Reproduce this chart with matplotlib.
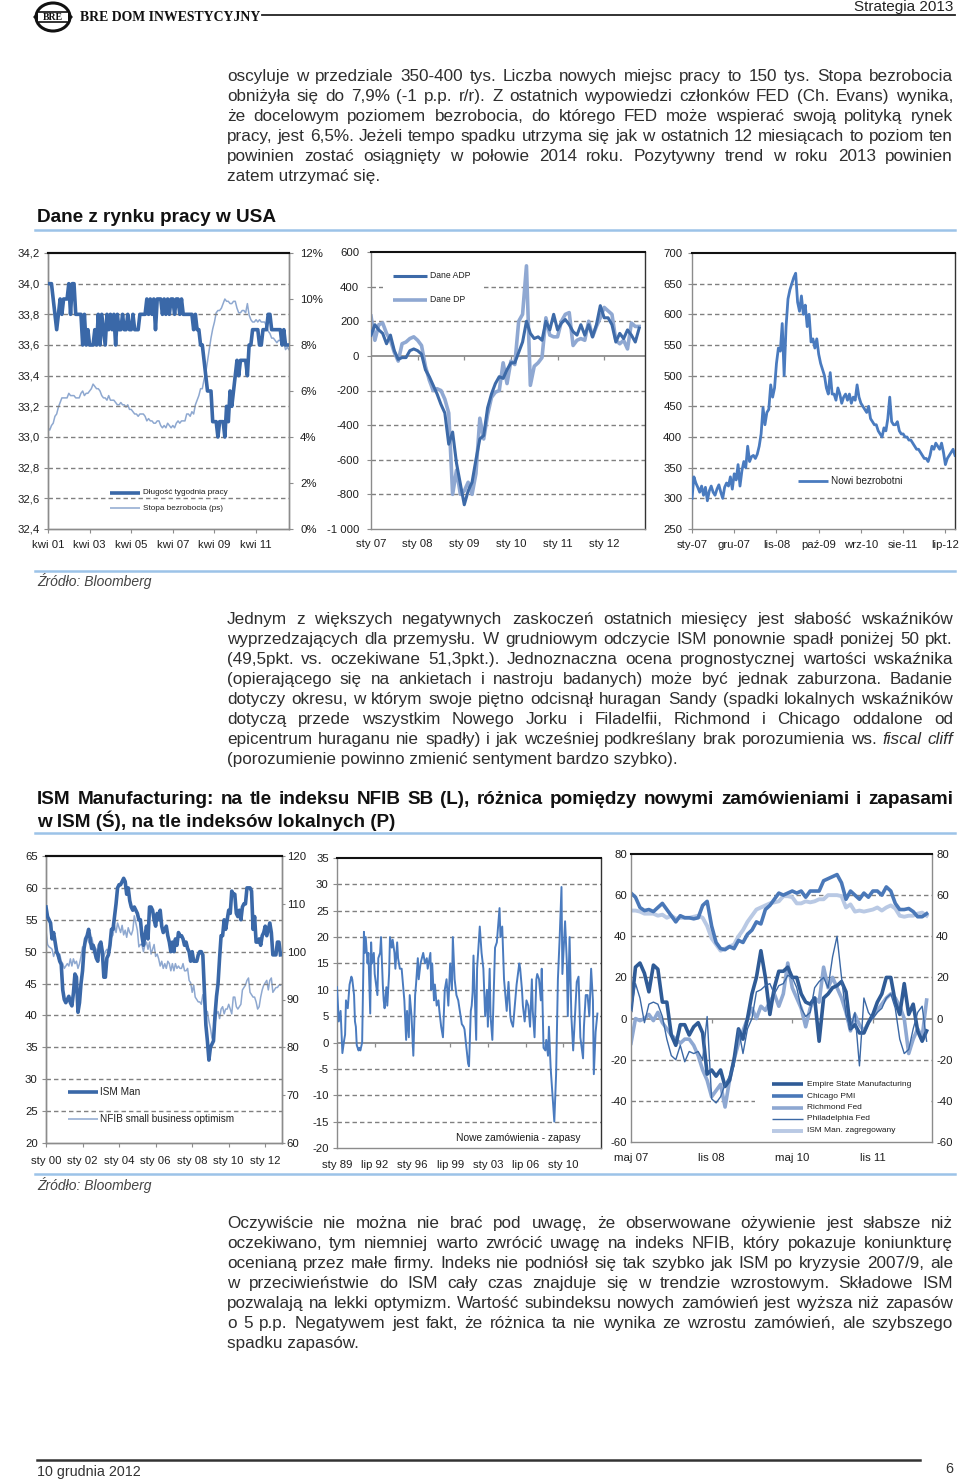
import matplotlib
matplotlib.use('Agg')
import matplotlib.pyplot as plt
from matplotlib import font_manager
from matplotlib.lines import Line2D
from matplotlib.patches import Rectangle, Ellipse, Polygon
import numpy as np

# ---------------------------------------------------------------- data
# Chart 1: weekly hours (L) and unemployment rate (R), monthly Apr 2001 - Nov 2012
hours = [34.0, 34.0, 34.0, 33.9, 33.8, 33.7, 33.8, 33.9, 33.8,
         33.9, 33.9, 33.9, 34.0, 33.8, 34.0, 34.0, 33.8, 33.8, 33.8, 33.8, 33.6,
         33.8, 33.6, 33.7, 33.6, 33.6, 33.6, 33.7, 33.6, 33.8, 33.6, 33.8, 33.7,
         33.6, 33.8, 33.7, 33.8, 33.7, 33.8, 33.6, 33.8, 33.7, 33.7, 33.8, 33.7,
         33.7, 33.8, 33.7, 33.7, 33.8, 33.7, 33.7, 33.7, 33.8, 33.8, 33.8, 33.8,
         33.9, 33.8, 33.9, 33.8, 33.9, 33.7, 33.9, 33.9, 33.9, 33.8, 33.9, 33.8,
         33.9, 33.8, 33.9, 33.9, 33.8, 33.9, 33.9, 33.8, 33.9, 33.8, 33.8, 33.8,
         33.8, 33.8, 33.8, 33.7, 33.8, 33.7, 33.7, 33.6, 33.6, 33.5, 33.4, 33.3,
         33.3, 33.3, 33.1, 33.1, 33.1, 33.0, 33.1, 33.1, 33.1, 33.0, 33.2, 33.1,
         33.3, 33.2, 33.3, 33.4, 33.5, 33.4, 33.5, 33.5, 33.5, 33.5, 33.4, 33.6,
         33.6, 33.7, 33.7, 33.7, 33.7, 33.6, 33.6, 33.7, 33.7, 33.7, 33.8, 33.8,
         33.7, 33.7, 33.7, 33.7, 33.7, 33.7, 33.6, 33.7, 33.6, 33.6, 33.6]
unemp = [4.4, 4.3, 4.5, 4.6, 4.9, 5.0, 5.3, 5.5, 5.7,
         5.7, 5.7, 5.7, 5.9, 5.8, 5.8, 5.8, 5.7, 5.7, 5.7, 5.9, 6.0,
         5.8, 5.9, 5.9, 6.0, 6.1, 6.3, 6.2, 6.1, 6.1, 6.0, 5.8, 5.7,
         5.7, 5.6, 5.8, 5.6, 5.6, 5.6, 5.5, 5.4, 5.4, 5.5, 5.4, 5.4,
         5.3, 5.4, 5.2, 5.2, 5.1, 5.0, 5.0, 4.9, 5.0, 5.0, 5.0, 4.9,
         4.7, 4.8, 4.7, 4.7, 4.6, 4.6, 4.7, 4.7, 4.5, 4.4, 4.5, 4.4,
         4.6, 4.5, 4.4, 4.5, 4.4, 4.6, 4.7, 4.6, 4.7, 4.7, 4.7, 5.0,
         5.0, 4.9, 5.1, 5.0, 5.4, 5.6, 5.8, 6.1, 6.1, 6.5, 6.8, 7.3,
         7.8, 8.3, 8.7, 9.0, 9.4, 9.5, 9.5, 9.6, 9.8, 10.0, 9.9, 9.9,
         9.8, 9.8, 9.9, 9.9, 9.6, 9.4, 9.4, 9.5, 9.5, 9.4, 9.8, 9.3,
         9.1, 9.0, 9.0, 9.1, 9.0, 9.1, 9.0, 9.0, 9.0, 8.8, 8.6, 8.5,
         8.3, 8.3, 8.2, 8.1, 8.2, 8.2, 8.2, 8.1, 7.8, 7.9, 7.8]
c1_xticks = [0, 24, 48, 72, 96, 120]
c1_xlabels = ['kwi 01', 'kwi 03', 'kwi 05', 'kwi 07', 'kwi 09', 'kwi 11']
c1_yticks = [32.4, 32.6, 32.8, 33.0, 33.2, 33.4, 33.6, 33.8, 34.0, 34.2]
c1_rticks = [0, 2, 4, 6, 8, 10, 12]

# Chart 2: ADP vs nonfarm payrolls (thous.), monthly Jan 2007 - Oct 2012
adp = [120, 180, 150, 130, 70, 120, 30, -20, -10, -10, 30, 40,
       30, 10, -80, -120, -170, -220, -280, -330, -510, -440, -620, -740,
       -860, -780, -730, -600, -480, -460, -300, -220, -160, -120, -130, -80,
       -40, -40, 20, 80, 200, 130, 100, 110, 90, 200, 150, 240,
       150, 190, 210, 180, 140, 120, 180, 120, 180, 110, 180, 290,
       220, 220, 180, 80, 130, 100, 150, 120, 80, 160]
dp = [230, 90, 180, 190, 130, 90, 20, -30, 70, 80, 100, 110,
      90, 60, -60, -140, -200, -190, -200, -250, -330, -800, -660, -800,
      -780, -730, -800, -680, -360, -480, -340, -240, -210, -200, -40, -160,
      -30, -50, 200, 240, 520, -170, -60, -40, -10, 220, 120, 110,
      110, 200, 240, 250, 60, 90, 100, 90, 200, 110, 170, 220,
      280, 260, 240, 90, 70, 90, 40, 190, 170, 170]
c2_xticks = [0, 12, 24, 36, 48, 60]
c2_xlabels = ['sty 07', 'sty 08', 'sty 09', 'sty 10', 'sty 11', 'sty 12']
c2_yticks = [-1000, -800, -600, -400, -200, 0, 200, 400, 600]
c2_ylabels = ['-1 000', '-800', '-600', '-400', '-200', '0', '200', '400', '600']

# Chart 3: initial jobless claims (thous.), two readings per month from Jan 2007
claims = [300, 335, 325, 318, 310, 320, 305, 318, 296, 312, 320, 310,
          305, 315, 322, 310, 300, 318, 325, 320, 335, 315, 340, 330,
          355, 320, 345, 360, 350, 385, 360, 368, 370, 365, 372, 385,
          405, 448, 420, 440, 445, 485, 465, 480, 520, 545, 540, 585,
          500, 580, 625, 640, 650, 660, 667, 620, 605, 630, 600, 615,
          580, 600, 555, 560, 545, 560, 535, 520, 510, 500, 480, 470,
          505, 470, 470, 460, 480, 470, 455, 465, 470, 460, 470, 455,
          465, 460, 485, 465, 455, 450, 445, 440, 450, 430, 425, 420,
          420, 410, 405, 400, 415, 410, 430, 465, 425, 420, 420, 425,
          410, 405, 405, 400, 400, 395, 395, 390, 385, 380, 380, 375,
          370, 365, 365, 360, 370, 385, 380, 390, 385, 380, 390, 375,
          355, 365, 370, 375, 380, 370]
c3_xticks = [0, 11, 22, 33, 44, 55, 66]
c3_xlabels = ['sty-07', 'gru-07', 'lis-08', 'paź-09', 'wrz-10', 'sie-11', 'lip-12']
c3_yticks = [250, 300, 350, 400, 450, 500, 550, 600, 650, 700]

# Chart 4: ISM Manufacturing (L) and NFIB small business optimism (R), monthly Jan 2000 - Nov 2012
ism = [57, 55.5, 55, 54.5, 52, 53, 51.5, 50, 49.5, 48.5, 48, 44,
       42.5, 42, 42.5, 43, 42, 41.5, 43.5, 46.5, 46, 40.5, 42, 45,
       47, 50.5, 52, 52.5, 53.5, 52, 50.5, 51, 50, 49, 48.5, 51,
       51.5, 50, 46, 46, 49, 49.5, 51, 53.5, 53.5, 55.5, 57.5, 60,
       60.5, 60.5, 61, 61.5, 61, 59, 60, 58, 57, 56.5, 57, 56.5,
       56, 55, 55, 52.5, 51, 52.5, 54, 52, 57, 57, 56.5, 55,
       54, 56, 55, 56.5, 54, 53, 53.5, 54, 52.5, 51.5, 50, 51.5,
       50, 52, 51, 53, 52.5, 52.5, 52, 51, 51.5, 50.5, 50, 48.5,
       50, 48.5, 48.5, 48.5, 49.5, 50, 50, 49.5, 44, 38.5, 36, 33,
       35, 35.5, 36, 40, 43, 45, 49, 52.5, 52.5, 55, 53.5, 55,
       56.5, 56, 59.5, 59, 59, 56, 55.5, 56.5, 55, 57, 57.5, 57.5,
       60, 60, 60, 59.5, 53.5, 55.5, 51.5, 51.5, 52, 51, 52.5, 53,
       54, 52.5, 53.5, 54.5, 53, 49.5, 49.5, 49.5, 51.5, 51.5, 49.5]
nfib = [104.5, 101.5, 101, 100.8, 100.5, 99, 100, 99.5, 98.5, 99.5, 98, 97.5,
        96.5, 97, 97.5, 97, 98.5, 97, 98.5, 97.5, 98, 96.5, 97.5, 99,
        101, 100.5, 102.5, 103, 102, 101.5, 103, 101.5, 101, 100.5, 99.5, 101,
        100, 99.5, 99, 100, 100.5, 100, 101.5, 103, 103.5, 105.5, 104, 106,
        105, 104, 105.5, 103.5, 104.5, 103, 105, 104, 103.5, 104.5, 107.5, 106,
        104.5, 101, 101.5, 101.5, 100, 101.5, 102, 100.5, 102, 99.5, 100.5, 101.5,
        99, 99.5, 98.5, 97, 98, 96.5, 97.5, 96.5, 98, 97.5, 96, 97.5,
        96, 97.5, 96.5, 97, 96.5, 96.5, 97.5, 96, 96, 96.5, 94, 93.5,
        91.5, 93, 90.5, 90, 89.5, 89.5, 89, 91, 89.5, 87, 87.5, 85.5,
        84, 82, 81.5, 85, 87, 87.5, 86, 88, 88.5, 87, 88, 88,
        89, 88, 87, 90.5, 90.5, 88.5, 88, 88.5, 89, 92, 92.5, 93,
        94, 94.5, 91.5, 91, 90.5, 90.5, 89.5, 88, 88.5, 90.5, 92, 93,
        93.5, 94, 92, 94, 94.5, 91.5, 92, 92.5, 92.5, 93, 93]
c4_xticks = [0, 24, 48, 72, 96, 120, 144]
c4_xlabels = ['sty 00', 'sty 02', 'sty 04', 'sty 06', 'sty 08', 'sty 10', 'sty 12']
c4_yticks = [20, 25, 30, 35, 40, 45, 50, 55, 60, 65]
c4_rticks = [60, 70, 80, 90, 100, 110, 120]

# Chart 5: ISM new orders minus inventories, readings (month offset from Jan 1989, value)
no_month = [0, 2, 4, 6, 8, 9, 10, 12, 14, 16, 17, 19, 20, 21, 22, 24, 25, 26, 28, 29,
            30, 31, 32, 34, 35, 36, 37, 38, 39, 41, 42, 45, 46, 48, 49, 51, 52, 53, 55, 56,
            58, 59, 61, 62, 64, 65, 67, 68, 70, 72, 75, 77, 78, 80, 81, 83, 85, 87, 88, 90,
            91, 93, 96, 98, 100, 101, 104, 105, 106, 108, 109, 111, 113, 114, 116, 118, 120, 122, 124, 126,
            128, 129, 131, 133, 135, 139, 141, 142, 146, 147, 149, 150, 151, 152, 155, 156, 159, 161, 163, 165,
            167, 168, 170, 171, 173, 176, 178, 181, 182, 184, 186, 189, 191, 193, 194, 196, 197, 200, 203, 204,
            206, 207, 209, 211, 213, 215, 217, 218, 220, 222, 223, 225, 227, 228, 230, 232, 233, 235, 236, 238,
            240, 242, 244, 246, 248, 250, 251, 254, 256, 257, 259, 261, 263, 265, 267, 269, 271, 274, 275, 277,
            279, 281, 283, 285, 286, 288, 290]
no_value = [10.5, 4, 6, -2, 0.5, 1.5, 8, 6.5, 11, 12.5, 12, 9, 4, 3, -0.5, -1.5, -1, -1.5, 0, 10,
            21, 17, 20, 15, 17, 11, 5.5, 19, 15, 17, 13, 9, 16, 17, 20, 11, 8, 6.5, 10.5, 7,
            13, 20, 18, 19.5, 17, 14, 19, 16, 14, 14, 8, 0.5, 6, 1, 9, 5, -2.5, 9, 11, 16,
            12, 15, 17, 15, 16, 14, 17, 10, 15, 8, 11, 7, 8, 6, 3, 1, 10, 12, 7, 15,
            10, 20, 12, 9, 8, 3.5, 3, 2.5, -4, -4.5, 6, 7, 9.5, 16.5, 0.5, 14, 22, 17, 14, 5,
            10, 3, 14, 5, 0.5, 18, 19, 25.5, 20, 22, 12, 6, 11.5, 5, 4, 3, 5, 11, 15, 14,
            10, 7, 4, 8, 7, 3, 12, 6, 1, 12, 13, 12, 8, 14, -1, -1.5, 0.5, -2.5, 3, -5,
            -10, -15, -6, 12, 20, 29.5, 13, 23, 15, 5, 20, 5, -1.5, 5, 11.5, 12.5, 1, -3, 3, 9,
            9, 5, 14, 8, -6, 2, 5.5]
c5_xticks = [0, 42, 84, 126, 168, 210, 252]
c5_xlabels = ['sty 89', 'lip 92', 'sty 96', 'lip 99', 'sty 03', 'lip 06', 'sty 10']
c5_yticks = [-20, -15, -10, -5, 0, 5, 10, 15, 20, 25, 30, 35]

# Chart 6: regional indices, monthly May 2007 - Nov 2012
empire = [4, 25, 27, 22, 13, 26, 24, 8, 8, -8, -13, -3, -3, -8, -4, -2, -7, -27, -25, -28,
          -25, -33, -30, -20, -5, -10, 0, 12, 20, 33, 20, 2, 15, 23, 23, 25, 20, 20, 12, 8,
          7, 10, -11, 10, 12, 15, 16, 18, 13, -5, -3, -7, -7, -2, 2, 8, 12, 20, 20, 8,
          2, 17, 2, 7, -6, -11, -6]
chicago = [61, 59, 54, 52.5, 53, 52, 54, 56, 53, 50, 47, 50, 49, 49, 48.5, 49, 55, 57, 45, 37,
           34, 33.5, 35, 34, 38, 37, 41, 43, 47, 46, 53, 55, 58, 61, 60, 61, 62, 61, 62, 59,
           62, 62, 62, 67, 68, 69, 70, 66, 58, 62, 60, 58, 61, 59, 62, 62, 60, 64, 62, 56,
           53, 53, 53.5, 52, 49.5, 49.5, 51]
richmond = [-12, 0, -1, 0, 2, -1, 3, -2, -5, -8, -10, -12, -10, -10, -13, -18, -25, -30, -38, -35,
            -32, -43, -30, -20, -12, -6, 0, 5, 0, 6, 4, 8, 12, 6, 12, 27, 15, 10, 5, -4,
            5, 10, 8, 25, 15, 20, 15, 10, 3, -6, 2, -3, -6, -2, 1, 4, 7, 10, 12, 10,
            6, 0, -17, -10, -5, -9, 9]
philly = [4, 17, 10, -2, 7, 8, 7, 1, -10, -18, -20, -13, -21, -16, -17, -16, -20, 1, -39, -41,
          -38, -32, -28, -23, -5, -17, -5, 0, 13, 14, 16, 17, 12, 16, 17, 21, 20, 15, 5, 1,
          3, 15, 18, 20, 15, 30, 40, 20, 2, -5, 3, -23, 10, 3, 0, 3, 5, 10, 12, 5,
          -10, -17, -15, -5, 3, 6, -11]
ism_agg = [52.5, 52.5, 52, 51, 51, 51, 50, 50.5, 49, 50, 48.5, 49, 49, 49, 49.5, 50, 49, 45, 39, 36,
           33, 34, 35, 36, 40, 43, 47, 50, 53, 54, 55, 56, 56.5, 57, 59.5, 59.5, 59, 56, 56, 57,
           56.5, 57, 58, 58, 60, 60, 60, 59.5, 54, 55.5, 52, 52.5, 52, 52.5, 53, 54, 52.5, 54, 55, 53.5,
           50, 49.5, 50, 50, 51, 51.5, 50]
c6_xticks = [0, 18, 36, 54]
c6_xlabels = ['maj 07', 'lis 08', 'maj 10', 'lis 11']
c6_yticks = [-60, -40, -20, 0, 20, 40, 60, 80]

# ---------------------------------------------------------------- page setup
W, H = 960, 1484
fig = plt.figure(figsize=(W / 100, H / 100), dpi=100)
fig.patch.set_facecolor('white')
renderer = fig.canvas.get_renderer()

names = {f.name for f in font_manager.fontManager.ttflist}
HAS_NARROW = 'Liberation Sans Narrow' in names
NARROW = 'Liberation Sans Narrow' if HAS_NARROW else 'Liberation Sans'
FS = 1.0 if HAS_NARROW else 0.84
BODY = 'Liberation Sans'
SERIF = 'Liberation Serif'
plt.rcParams['font.family'] = [NARROW, 'DejaVu Sans']
plt.rcParams['axes.unicode_minus'] = False

TXT = '#2e2e2e'
BLUE_RULE = '#9cc3e8'
GRAY = '#8c8c8c'
GRIDC = '#808080'
TICKFS = 9.8


def fx(x):
    return x / W


def fy(y):
    return 1 - y / H


def ftext(x, y, s, **kw):
    return fig.text(fx(x), fy(y), s, **kw)


def fline(x0, x1, y0, y1, **kw):
    fig.add_artist(Line2D([fx(x0), fx(x1)], [fy(y0), fy(y1)], transform=fig.transFigure, **kw))


def fbox(x0, y0, x1, y1, z=1):
    fig.add_artist(Rectangle((fx(x0), fy(y1)), (x1 - x0) / W, (y1 - y0) / H,
                             transform=fig.transFigure, facecolor='white', edgecolor='none', zorder=z))


def para(lines, x0, x1, y0, pitch, size, color=TXT, family=BODY, weight='normal', justify_last=False):
    for i, line in enumerate(lines):
        y = y0 + i * pitch
        last = (i == len(lines) - 1) and not justify_last
        if last:
            ftext(x0, y, line, fontsize=size, family=family, weight=weight, color=color, va='baseline')
            continue
        items = []
        for w in line.split(' '):
            st = 'normal'
            if w.startswith('*') or w.endswith('*'):
                st = 'italic'
                w = w.strip('*')
            t = ftext(0, y, w, fontsize=size, family=family, weight=weight, color=color,
                      va='baseline', style=st)
            items.append((t, t.get_window_extent(renderer).width))
        total = sum(wd for _, wd in items)
        gap = (x1 - x0 - total) / max(len(items) - 1, 1)
        x = x0
        for t, wd in items:
            t.set_x(fx(x))
            x += wd + gap


# ---------------------------------------------------------------- header / footer
logo = Ellipse((fx(53), fy(17)), 34 / W, 28 / H, transform=fig.transFigure,
               facecolor='white', edgecolor='#111111', lw=2.2)
fig.add_artist(logo)
fig.add_artist(Rectangle((fx(37), fy(22)), 32 / W, 10 / H, transform=fig.transFigure,
                         facecolor='white', edgecolor='#111111', lw=1.2))
fig.add_artist(Polygon([[fx(33), fy(17)], [fx(38), fy(12)], [fx(38), fy(22)]], closed=True,
                       transform=fig.transFigure, facecolor='#111111', edgecolor='none'))
fig.add_artist(Polygon([[fx(73), fy(17)], [fx(68), fy(12)], [fx(68), fy(22)]], closed=True,
                       transform=fig.transFigure, facecolor='#111111', edgecolor='none'))
ftext(53, 17.5, 'BRE', fontsize=7, family=SERIF, weight='bold', ha='center', va='center', color='#111111')
ftext(80, 21, 'BRE DOM INWESTYCYJNY', fontsize=9.9, family=SERIF, weight='bold', color='#111111', va='baseline')
fline(262, 955, 14.5, 14.5, color='#222222', lw=1.3)
ftext(953, 11.5, 'Strategia 2013', fontsize=11, family=BODY, color='#222222', ha='right', va='baseline')

fline(37, 920, 1460, 1460, color='#333333', lw=1.8)
ftext(37, 1476, '10 grudnia 2012', fontsize=12.2 * FS, family=NARROW, color='#333333', va='baseline')
ftext(953, 1473, '6', fontsize=12.2 * FS, family=NARROW, color='#333333', ha='right', va='baseline')

# ---------------------------------------------------------------- body text
p1 = ["oscyluje w przedziale 350-400 tys. Liczba nowych miejsc pracy to 150 tys. Stopa bezrobocia",
      "obniżyła się do 7,9% (-1 p.p. r/r). Z ostatnich wypowiedzi członków FED (Ch. Evans) wynika,",
      "że docelowym poziomem bezrobocia, do którego FED może wspierać swoją polityką rynek",
      "pracy, jest 6,5%. Jeżeli tempo spadku utrzyma się jak w ostatnich 12 miesiącach to poziom ten",
      "powinien zostać osiągnięty w połowie 2014 roku. Pozytywny trend w roku 2013 powinien",
      "zatem utrzymać się."]
p2 = ["Jednym z większych negatywnych zaskoczeń ostatnich miesięcy jest słabość wskaźników",
      "wyprzedzających dla przemysłu. W grudniowym odczycie ISM ponownie spadł poniżej 50 pkt.",
      "(49,5pkt. vs. oczekiwane 51,3pkt.). Jednoznaczna ocena prognostycznej wartości wskaźnika",
      "(opierającego się na ankietach i nastroju badanych) może być jednak zaburzona. Badanie",
      "dotyczy okresu, w którym swoje piętno odcisnął huragan Sandy (spadki lokalnych wskaźników",
      "dotyczą przede wszystkim Nowego Jorku i Filadelfii, Richmond i Chicago oddalone od",
      "epicentrum huraganu nie spadły) i jak wcześniej podkreślany brak porozumienia ws. *fiscal cliff*",
      "(porozumienie powinno zmienić sentyment bardzo szybko)."]
p3 = ["Oczywiście nie można nie brać pod uwagę, że obserwowane ożywienie jest słabsze niż",
      "oczekiwano, tym niemniej warto zwrócić uwagę na indeks NFIB, który pokazuje koniunkturę",
      "ocenianą przez małe firmy. Indeks nie podniósł się tak szybko jak ISM po kryzysie 2007/9, ale",
      "w przeciwieństwie do ISM cały czas znajduje się w trendzie wzrostowym. Składowe ISM",
      "pozwalają na lekki optymizm. Wartość subindeksu nowych zamówień jest wyższa niż zapasów",
      "o 5 p.p. Negatywem jest fakt, że różnica ta nie wynika ze wzrostu zamówień, ale szybszego",
      "spadku zapasów."]
para(p1, 227, 953, 81, 20, 12.3)
para(p2, 227, 953, 624, 20, 12.3)
para(p3, 227, 953, 1228, 20, 12.3)

# section titles
ftext(37, 222, 'Dane z rynku pracy w USA', fontsize=13.7, family=BODY, weight='bold', color='#111111', va='baseline')
fline(35, 955, 229.5, 229.5, color=BLUE_RULE, lw=1.8)
para(["ISM Manufacturing: na tle indeksu NFIB SB (L), różnica pomiędzy nowymi zamówieniami i zapasami",
      "w ISM (Ś), na tle indeksów lokalnych (P)"], 37, 953, 804, 23, 13.6, color='#111111', weight='bold')
fline(35, 955, 832.5, 832.5, color=BLUE_RULE, lw=1.8)

# source lines
fline(35, 955, 570.5, 570.5, color=BLUE_RULE, lw=1.8)
ftext(37, 586, 'Źródło: Bloomberg', fontsize=10, family=BODY, style='italic', color='#444444', va='baseline')
fline(35, 955, 1173.5, 1173.5, color=BLUE_RULE, lw=1.8)
ftext(37, 1190, 'Źródło: Bloomberg', fontsize=10, family=BODY, style='italic', color='#444444', va='baseline')


# ---------------------------------------------------------------- chart helpers
def add_ax(l, t, r, b):
    return fig.add_axes([l / W, 1 - b / H, (r - l) / W, (b - t) / H])


def frame(ax, right_dark=False):
    for s in ['left', 'bottom', 'right']:
        ax.spines[s].set_color(GRAY)
        ax.spines[s].set_linewidth(1.0)
    ax.spines['top'].set_color('#111111')
    ax.spines['top'].set_linewidth(1.5)
    if right_dark:
        ax.spines['right'].set_color('#333333')
    ax.tick_params(axis='both', which='both', direction='out', color=GRAY, width=0.8,
                   labelsize=TICKFS * FS, labelcolor='#1e1e1e')
    ax.tick_params(axis='x', length=3, pad=4.8)
    ax.tick_params(axis='y', length=3, pad=3)


def dashed_grid(ax, vals):
    for v in vals:
        ax.axhline(v, color=GRIDC, lw=1.0, linestyle=(0, (3.2, 2.2)), zorder=1)


def zero_line(ax, xt, ymin, ymax, axh_px):
    ax.axhline(0, color=GRAY, lw=1.3, zorder=1.2)
    z = (0 - ymin) / (ymax - ymin)
    ax.vlines(xt, z - 4.5 / axh_px, z, transform=ax.get_xaxis_transform(), color=GRAY, lw=0.9, zorder=1.2)


def leg_line(x0, x1, y, color, lw):
    fig.add_artist(Line2D([fx(x0), fx(x1)], [fy(y), fy(y)], transform=fig.transFigure,
                          color=color, lw=lw, zorder=3, solid_capstyle='butt'))


def leg_text(x, y, s, size):
    fig.text(fx(x), fy(y), s, fontsize=size * FS, family=NARROW, color='#1e1e1e', va='center', zorder=3)


def fmt_comma(v):
    return ('%.1f' % v).replace('.', ',')


# ---------------------------------------------------------------- chart 1
ax1 = add_ax(48, 253, 289, 529)
ax1r = ax1.twinx()
ax1.set_zorder(ax1r.get_zorder() + 1)
ax1.patch.set_visible(False)
x1 = np.arange(len(hours))
ax1.set_xlim(0, 139)
ax1.set_ylim(32.4, 34.2)
ax1r.set_ylim(0, 12)
frame(ax1)
frame(ax1r)
dashed_grid(ax1, c1_yticks[1:-1])
ax1r.plot(x1, unemp, color='#8ea8d0', lw=1.1, zorder=2)
ax1.plot(x1, hours, color='#3a68a8', lw=2.6, zorder=3, solid_joinstyle='round')
ax1.set_yticks(c1_yticks)
ax1.set_yticklabels([fmt_comma(v) for v in c1_yticks])
ax1.set_xticks(c1_xticks)
ax1.set_xticklabels(c1_xlabels)
ax1r.set_yticks(c1_rticks)
ax1r.set_yticklabels(['%d%%' % v for v in c1_rticks])
ax1r.tick_params(axis='y', length=3, pad=5)
fbox(65, 482, 277, 518)
leg_line(110, 140, 493, '#3a68a8', 2.6)
leg_text(143, 493, 'Długość tygodnia pracy', 7.0)
leg_line(110, 140, 508, '#8ea8d0', 1.1)
leg_text(143, 508, 'Stopa bezrobocia (ps)', 7.0)

# ---------------------------------------------------------------- chart 2
ax2 = add_ax(371, 252, 645, 529)
x2 = np.arange(len(adp))
ax2.set_xlim(0, 70.5)
ax2.set_ylim(-1000, 600)
frame(ax2, right_dark=True)
dashed_grid(ax2, [v for v in c2_yticks[1:-1] if v != 0])
zero_line(ax2, c2_xticks[1:], -1000, 600, 277)
ax2.plot(x2, adp, color='#3d6aa8', lw=2.2, zorder=3, solid_joinstyle='round')
ax2.plot(x2, dp, color='#8fa8d2', lw=2.6, zorder=2.5, solid_joinstyle='round')
ax2.set_yticks(c2_yticks)
ax2.set_yticklabels(c2_ylabels)
ax2.tick_params(axis='y', pad=5.5)
ax2.set_xticks(c2_xticks)
ax2.set_xticklabels(c2_xlabels)
ax2.tick_params(axis='x', length=0, pad=7.2)
fbox(383, 265, 483, 310)
leg_line(393, 427, 276, '#3d6aa8', 2.2)
leg_text(430, 276, 'Dane ADP', 7.4)
leg_line(393, 427, 300, '#8fa8d2', 2.6)
leg_text(430, 300, 'Dane DP', 7.4)

# ---------------------------------------------------------------- chart 3
ax3 = add_ax(692, 253, 955, 529)
x3 = np.arange(len(claims)) * 0.5
ax3.set_xlim(0, 68.5)
ax3.set_ylim(250, 700)
frame(ax3, right_dark=True)
dashed_grid(ax3, c3_yticks[1:-1])
ax3.plot(x3, claims, color='#4a7bbf', lw=2.0, zorder=3, solid_joinstyle='round')
ax3.set_yticks(c3_yticks)
ax3.set_xticks(c3_xticks)
ax3.set_xticklabels(c3_xlabels)
ax3.tick_params(axis='y', pad=4)
fbox(795, 474, 915, 489)
leg_line(798, 828, 481, '#4a7bbf', 2.0)
leg_text(831, 481, 'Nowi bezrobotni', 8.6)

# ---------------------------------------------------------------- chart 4
ax4 = add_ax(46, 856, 282, 1143)
ax4r = ax4.twinx()
ax4.set_zorder(ax4r.get_zorder() + 1)
ax4.patch.set_visible(False)
x4 = np.arange(len(ism))
ax4.set_xlim(0, 155)
ax4.set_ylim(20, 65)
ax4r.set_ylim(60, 120)
frame(ax4)
frame(ax4r)
dashed_grid(ax4, c4_yticks[1:-1])
ax4r.plot(x4, nfib, color='#8ea8d0', lw=1.1, zorder=2)
ax4.plot(x4, ism, color='#3a68a8', lw=2.6, zorder=3, solid_joinstyle='round')
ax4.set_yticks(c4_yticks)
ax4.set_xticks(c4_xticks)
ax4.set_xticklabels(c4_xlabels)
ax4.tick_params(axis='x', pad=6.5)
ax4r.set_yticks(c4_rticks)
ax4r.tick_params(axis='y', length=2, pad=1.5)
fbox(60, 1075, 240, 1130)
leg_line(68, 98, 1092, '#3a68a8', 2.6)
leg_text(100, 1092, 'ISM Man', 8.6)
leg_line(68, 98, 1119, '#8ea8d0', 1.1)
leg_text(100, 1119, 'NFIB small business optimism', 8.6)

# ---------------------------------------------------------------- chart 5
ax5 = add_ax(337, 858, 601, 1148)
ax5.set_xlim(0, 294)
ax5.set_ylim(-20, 35)
frame(ax5, right_dark=True)
dashed_grid(ax5, [v for v in c5_yticks[1:-1] if v != 0])
zero_line(ax5, c5_xticks[1:], -20, 35, 290)
ax5.plot(no_month, no_value, color='#4a7bbf', lw=1.4, zorder=3, solid_joinstyle='round')
ax5.set_yticks(c5_yticks)
ax5.set_xticks(c5_xticks)
ax5.set_xticklabels(c5_xlabels)
ax5.tick_params(axis='x', length=0, pad=8.5)
ftext(581, 1138, 'Nowe zamówienia - zapasy', fontsize=8.8 * FS, family=NARROW, color='#1e1e1e',
      ha='right', va='center', zorder=3)

# ---------------------------------------------------------------- chart 6
ax6 = add_ax(631, 854, 932, 1142)
x6 = np.arange(len(empire))
ax6.set_xlim(0, 67.2)
ax6.set_ylim(-60, 80)
frame(ax6)
dashed_grid(ax6, [v for v in c6_yticks[1:-1] if v != 0])
zero_line(ax6, c6_xticks[1:], -60, 80, 288)
ax6.plot(x6, ism_agg, color='#b9c9e4', lw=2.8, zorder=2.2, solid_joinstyle='round')
ax6.plot(x6, richmond, color='#8ea8d2', lw=2.6, zorder=2.3, solid_joinstyle='round')
ax6.plot(x6, chicago, color='#4a78b8', lw=2.6, zorder=2.4, solid_joinstyle='round')
ax6.plot(x6, empire, color='#2f5b96', lw=2.6, zorder=2.5, solid_joinstyle='round')
ax6.plot(x6, philly, color='#3b68a5', lw=1.0, zorder=2.6)
ax6.set_yticks(c6_yticks)
ax6.set_xticks(c6_xticks)
ax6.set_xticklabels(c6_xlabels)
ax6.tick_params(axis='y', length=0, pad=3, labelright=True, right=True)
ax6.tick_params(axis='x', length=0, pad=8.2)
fbox(755, 1075, 930, 1140)
leg_items = [('Empire State Manufacturing', '#2f5b96', 2.6, 1084),
             ('Chicago PMI', '#4a78b8', 2.6, 1096),
             ('Richmond Fed', '#8ea8d2', 2.6, 1107.5),
             ('Philadelphia Fed', '#3b68a5', 1.0, 1119),
             ('ISM Man. zagregowany', '#b9c9e4', 2.8, 1131)]
for lab, col, lw, yy in leg_items:
    leg_line(772, 803, yy, col, lw)
    leg_text(807, yy, lab, 7.2)

fig.savefig('out.png', dpi=100, facecolor='white')
